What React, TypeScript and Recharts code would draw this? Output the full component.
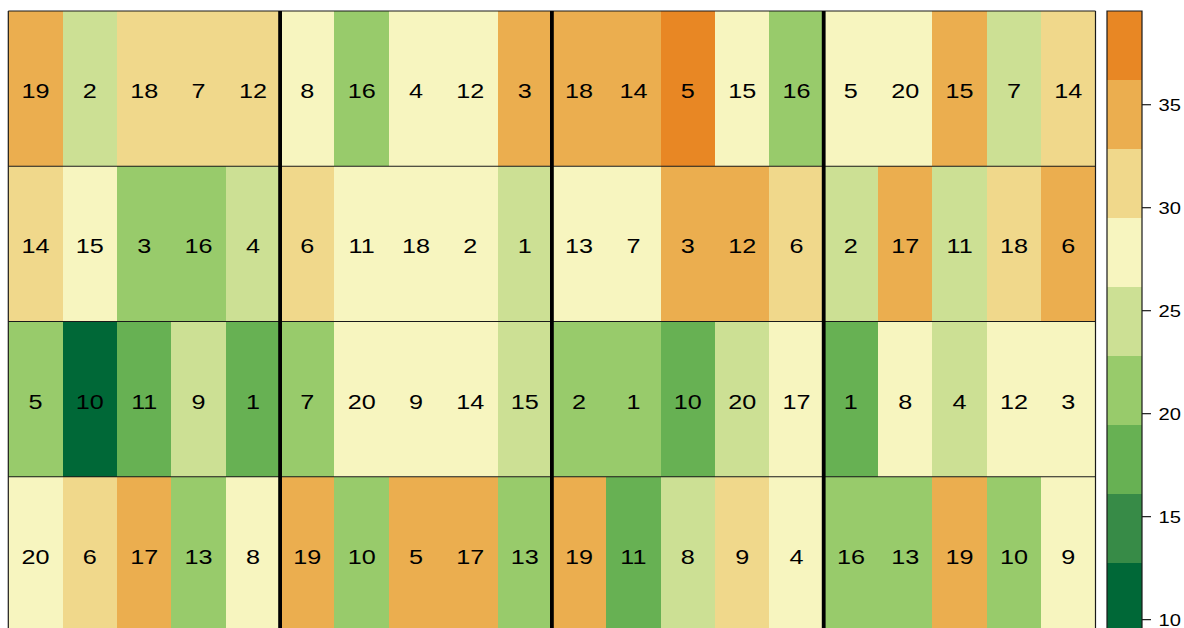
import { ComposedChart, ReferenceArea, ReferenceLine, XAxis, YAxis } from 'recharts';

// cell labels, one array per row (top to bottom)
const labelsRow1 = [19, 2, 18, 7, 12, 8, 16, 4, 12, 3, 18, 14, 5, 15, 16, 5, 20, 15, 7, 14];
const labelsRow2 = [14, 15, 3, 16, 4, 6, 11, 18, 2, 1, 13, 7, 3, 12, 6, 2, 17, 11, 18, 6];
const labelsRow3 = [5, 10, 11, 9, 1, 7, 20, 9, 14, 15, 2, 1, 10, 20, 17, 1, 8, 4, 12, 3];
const labelsRow4 = [20, 6, 17, 13, 8, 19, 10, 5, 17, 13, 19, 11, 8, 9, 4, 16, 13, 19, 10, 9];

// fill values, one array per row
const valuesRow1 = [34.8, 24.6, 31.9, 30.4, 31.2, 27.3, 21.8, 28.9, 27.7, 35.1, 33.6, 34.2, 39.55, 28.1, 20.9, 26.8, 28.5, 35.7, 23.9, 30.8];
const valuesRow2 = [30.1, 27.9, 21.2, 20.3, 25.4, 32.2, 28.7, 27.1, 26.6, 23.5, 29.2, 27.4, 33.9, 35.4, 31.6, 24.2, 34.7, 25.8, 30.7, 33.3];
const valuesRow3 = [22.1, 9.4, 18.2, 24.9, 17.6, 20.7, 28.2, 26.9, 29.1, 23.2, 21.5, 22.4, 16.9, 25.1, 27.5, 18.9, 28.8, 24.4, 27.0, 26.4];
const valuesRow4 = [28.4, 30.9, 34.1, 21.1, 27.2, 35.8, 19.9, 33.2, 34.9, 22.5, 33.7, 17.9, 23.7, 31.5, 28.0, 20.2, 21.9, 35.2, 22.7, 26.3];

const colorBreaks = [9.4, 12.75, 16.1, 19.45, 22.8, 26.15, 29.5, 32.85, 36.2, 39.55];
const palette = ['#006837', '#378B47', '#67B153', '#98CB6B', '#CCE094', '#F7F5BF', '#F0D88B', '#EBAE4F', '#E88724'];
const keyTicks = [10, 15, 20, 25, 30, 35];
const groupEdges = [5, 10, 15];
const rowEdges = [1, 2, 3];

const FONT = '"Liberation Sans", Arial, Helvetica, sans-serif';
const STRETCH = 1.2;

function colorFor(v: number) {
  for (let i = 0; i < palette.length; i++) {
    if (v <= colorBreaks[i + 1]) return palette[i];
  }
  return palette[palette.length - 1];
}

const rows = [
  [labelsRow1, valuesRow1],
  [labelsRow2, valuesRow2],
  [labelsRow3, valuesRow3],
  [labelsRow4, valuesRow4],
];

const cells = rows.flatMap(([labels, values], row) =>
  labels.map((label, col) => ({
    row,
    col,
    cx: col + 0.5,
    label,
    color: colorFor(values[col]),
  })),
);

const keyBins = palette.map((color, i) => ({ color, lo: colorBreaks[i], hi: colorBreaks[i + 1], kx: 0.5 }));

// crisp rectangles so neighbouring cells of one colour merge without seams
function CrispRect(props: any) {
  const { x, y, width, height, fill } = props;
  return <rect x={x} y={y} width={width} height={height} fill={fill} shapeRendering="crispEdges" />;
}

function CellLabel(props: any) {
  const { viewBox, text } = props;
  if (!viewBox) return null;
  const x = viewBox.x + viewBox.width / 2;
  const y = viewBox.y + viewBox.height / 2 + 9.5;
  return (
    <text
      transform={`translate(${x},${y}) scale(${STRETCH},1)`}
      textAnchor="middle"
      fontSize={21}
      fontFamily={FONT}
      fill="#000"
    >
      {text}
    </text>
  );
}

function KeyTick(props: any) {
  const { x, y, payload } = props;
  return (
    <text
      transform={`translate(${x},${y}) scale(${STRETCH},1)`}
      dy="0.36em"
      textAnchor="start"
      fontSize={16.8}
      fontFamily={FONT}
      fill="#000"
    >
      {payload.value}
    </text>
  );
}

export default function App() {
  return (
    <div style={{ position: 'absolute', left: 0, top: 0, width: 1184, height: 640, background: '#fff' }}>
      <div style={{ position: 'absolute', left: 0, top: 0 }}>
        <ComposedChart width={1100} height={640} data={cells} margin={{ top: 11, right: 4.5, bottom: 8, left: 8.3 }}>
          <XAxis type="number" dataKey="cx" domain={[0, 20]} hide allowDataOverflow />
          <YAxis type="number" domain={[0, 4]} reversed hide allowDataOverflow />
          {cells.map((c) => (
            <ReferenceArea
              key={`${c.row}-${c.col}`}
              x1={c.col}
              x2={c.col + 1}
              y1={c.row}
              y2={c.row + 1}
              fill={c.color}
              fillOpacity={1}
              ifOverflow="visible"
              shape={<CrispRect />}
              label={<CellLabel text={c.label} />}
            />
          ))}
          {rowEdges.map((r) => (
            <ReferenceLine key={`r${r}`} y={r} stroke="#1a1a1a" strokeWidth={1.2} ifOverflow="visible" />
          ))}
          <ReferenceLine y={0} stroke="#1a1a1a" strokeWidth={1.2} ifOverflow="visible" />
          <ReferenceLine y={4} stroke="#1a1a1a" strokeWidth={1.2} ifOverflow="visible" />
          <ReferenceLine x={0} stroke="#1a1a1a" strokeWidth={1.2} ifOverflow="visible" />
          <ReferenceLine x={20} stroke="#1a1a1a" strokeWidth={1.2} ifOverflow="visible" />
          {groupEdges.map((g) => (
            <ReferenceLine key={`g${g}`} x={g} stroke="#000" strokeWidth={3.8} ifOverflow="visible" />
          ))}
        </ComposedChart>
      </div>
      <div style={{ position: 'absolute', left: 1100, top: 0 }}>
        <ComposedChart width={84} height={640} data={keyBins} margin={{ top: 11, right: 0, bottom: 8, left: 7 }}>
          <XAxis type="number" dataKey="kx" domain={[0, 1]} hide allowDataOverflow />
          <YAxis
            type="number"
            orientation="right"
            width={42}
            domain={[colorBreaks[0], colorBreaks[colorBreaks.length - 1]]}
            ticks={keyTicks}
            allowDataOverflow
            axisLine={false}
            tickLine={{ stroke: '#1a1a1a', strokeWidth: 1.2 }}
            tickSize={9}
            tickMargin={7.5}
            tick={<KeyTick />}
          />
          {keyBins.map((b) => (
            <ReferenceArea
              key={b.color}
              x1={0}
              x2={1}
              y1={b.lo}
              y2={b.hi}
              fill={b.color}
              fillOpacity={1}
              ifOverflow="visible"
              shape={<CrispRect />}
            />
          ))}
          <ReferenceArea
            x1={0}
            x2={1}
            y1={colorBreaks[0]}
            y2={colorBreaks[colorBreaks.length - 1]}
            fill="none"
            fillOpacity={0}
            stroke="#1a1a1a"
            strokeWidth={1.2}
            ifOverflow="visible"
          />
        </ComposedChart>
      </div>
    </div>
  );
}
